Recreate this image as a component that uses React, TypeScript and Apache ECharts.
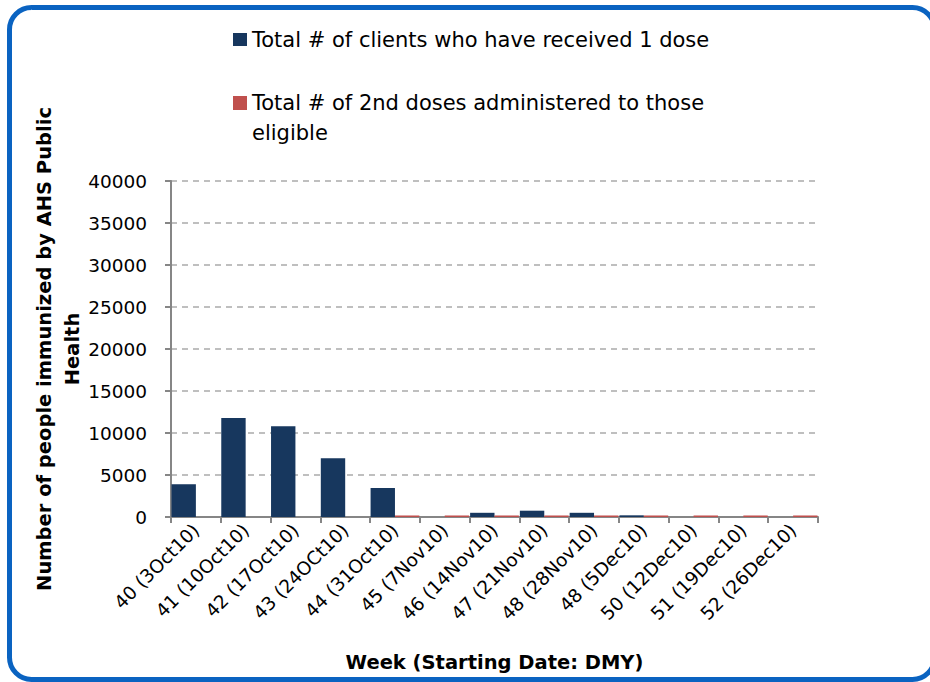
import React, { useEffect, useRef } from "react";
import * as echarts from "echarts";

const categories = [
  "40 (3Oct10)",
  "41 (10Oct10)",
  "42 (17Oct10)",
  "43 (24OCt10)",
  "44 (31Oct10)",
  "45 (7Nov10)",
  "46 (14Nov10)",
  "47 (21Nov10)",
  "48 (28Nov10)",
  "48 (5Dec10)",
  "50 (12Dec10)",
  "51 (19Dec10)",
  "52 (26Dec10)",
];
const firstDose = [3900, 11800, 10800, 7000, 3450, 0, 500, 750, 500, 200, 0, 0, 0];
const secondDose = [0, 0, 0, 0, 180, 180, 180, 180, 180, 180, 180, 180, 180];

const seriesNames = [
  "Total # of clients who have received 1 dose",
  "Total # of 2nd doses administered to those eligible",
];

const FONT = "DejaVu Sans";

export default function App() {
  const ref = useRef<HTMLDivElement>(null);
  useEffect(() => {
    document.body.style.margin = "0";
    const chart = echarts.init(ref.current!, null, { renderer: "svg" });
    chart.setOption({
      animation: false,
      backgroundColor: "#ffffff",
      graphic: [
        {
          type: "rect",
          z: -10,
          shape: { x: 9.5, y: 7.5, width: 925, height: 672, r: 22 },
          style: { fill: "none", stroke: "#0a63c1", lineWidth: 5 },
        },
      ],
      legend: [
        {
          data: [seriesNames[0]],
          left: 233,
          top: 29,
          padding: 0,
          icon: "rect",
          itemWidth: 14,
          itemHeight: 13,
          textStyle: { fontFamily: FONT, fontSize: 21, color: "#000" },
        },
        {
          data: [seriesNames[1]],
          left: 233,
          top: 58,
          padding: 0,
          icon: "rect",
          itemWidth: 14,
          itemHeight: 14,
          formatter: () => " \nTotal # of 2nd doses administered to those\neligible",
          textStyle: {
            fontFamily: FONT,
            fontSize: 21,
            color: "#000",
            lineHeight: 30,
          },
        },
      ],
      grid: { left: 171, right: 112, top: 181, bottom: 165 },
      xAxis: {
        type: "category",
        data: categories,
        name: "Week (Starting Date: DMY)",
        nameLocation: "middle",
        nameGap: 135,
        nameMoveOverlap: false,
        nameTextStyle: { fontFamily: FONT, fontWeight: "bold", fontSize: 19.5, color: "#000" },
        axisLine: { lineStyle: { color: "#868686", width: 2 } },
        axisTick: { show: true, length: 6, lineStyle: { color: "#868686", width: 2 } },
        axisLabel: {
          rotate: 45,
          margin: 10,
          fontFamily: FONT,
          fontSize: 18.5,
          color: "#000",
          interval: 0,
        },
      },
      yAxis: {
        type: "value",
        min: 0,
        max: 40000,
        interval: 5000,
        name: "Number of people immunized by AHS Public\nHealth",
        nameLocation: "middle",
        nameGap: 85,
        nameMoveOverlap: false,
        nameTextStyle: {
          fontFamily: FONT,
          fontWeight: "bold",
          fontSize: 19.5,
          lineHeight: 28,
          color: "#000",
        },
        axisLine: { show: true, lineStyle: { color: "#868686", width: 2 } },
        axisTick: { show: true, length: 6, lineStyle: { color: "#868686", width: 2 } },
        axisLabel: {
          margin: 24,
          fontFamily: FONT,
          fontSize: 18.5,
          color: "#000",
          formatter: (v: number) => String(v),
        },
        splitLine: {
          lineStyle: { color: "#bfbfbf", type: [6, 5], width: 2 },
        },
      },
      series: [
        {
          name: seriesNames[0],
          type: "bar",
          data: firstDose,
          barGap: "0%",
          barCategoryGap: "2%",
          itemStyle: { color: "#17375e" },
        },
        {
          name: seriesNames[1],
          type: "bar",
          data: secondDose,
          itemStyle: { color: "#c0504d" },
        },
      ],
    });
    return () => chart.dispose();
  }, []);
  return (
    <div
      ref={ref}
      style={{ width: 930, height: 682, position: "absolute", left: 0, top: 0 }}
    />
  );
}
